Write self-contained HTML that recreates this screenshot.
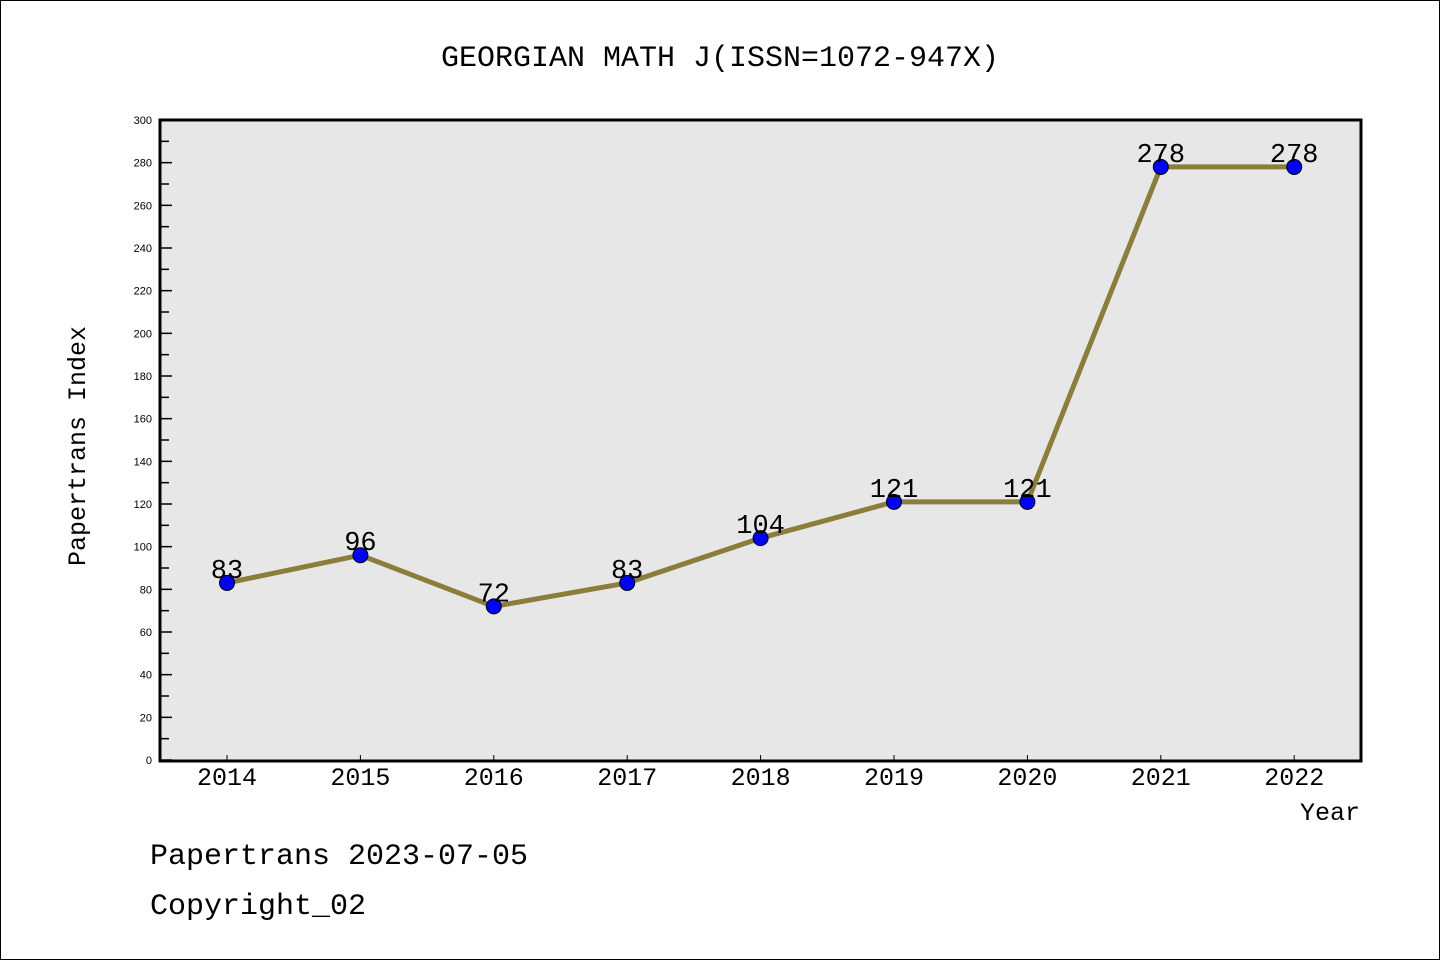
<!DOCTYPE html>
<html><head><meta charset="utf-8"><style>
body{margin:0;background:#fff}
svg{display:block;font-family:"Liberation Mono",monospace}
</style></head><body>
<svg id="chart" width="1440" height="960" viewBox="0 0 1440 960" xmlns="http://www.w3.org/2000/svg">
<rect x="0.5" y="0.5" width="1439" height="959" fill="#fff" stroke="#000"/>
<text x="720" y="66" text-anchor="middle" font-size="30">GEORGIAN MATH J(ISSN=1072-947X)</text>
<rect x="160" y="120" width="1201" height="641" fill="#e7e7e7"/>
<g id="axes"></g>
<g id="series"></g>
<rect x="160" y="120" width="1201" height="641" fill="none" stroke="#000" stroke-width="3"/>
<text x="85" y="446" text-anchor="middle" font-size="25" transform="rotate(-90 85 446)">Papertrans Index</text>
<text x="1360" y="820" text-anchor="end" font-size="25">Year</text>
<text x="150" y="864" font-size="30">Papertrans 2023-07-05</text>
<text x="150" y="914" font-size="30">Copyright_02</text>
</svg>
<script>
const years = ["2014","2015","2016","2017","2018","2019","2020","2021","2022"];
const values = [83,96,72,83,104,121,121,278,278];
const yTicks = [0,20,40,60,80,100,120,140,160,180,200,220,240,260,280,300];
const NS="http://www.w3.org/2000/svg";
const x0=227,dx=133.4,yBase=760,yTop=120,yMax=300;
function xs(i){return x0+i*dx;}
function ys(v){return yBase-(v/yMax)*(yBase-yTop);}
function mk(tag,attrs,parent){const e=document.createElementNS(NS,tag);for(const k in attrs)e.setAttribute(k,attrs[k]);parent.appendChild(e);return e;}
const axes=document.getElementById('axes'),series=document.getElementById('series');
yTicks.forEach((t,i)=>{
  const y=ys(t);
  const ln=mk('line',{x1:160,x2:172,y1:y,y2:y,stroke:'#000','stroke-width':1.5},axes);
  
  
  const tx=mk('text',{x:152,y:y+4,'text-anchor':'end','font-size':11,'font-family':'Liberation Sans, sans-serif'},axes);
  tx.textContent=t;
  
  
  if(i<yTicks.length-1){
    const ym=ys(t+10);
    const mn=mk('line',{x1:160,x2:169,y1:ym,y2:ym,stroke:'#000','stroke-width':1.5},axes);
    
    
  }
});
years.forEach((yr,i)=>{
  const x=xs(i);
  const ln=mk('line',{x1:x,x2:x,y1:761,y2:755,stroke:'#000','stroke-width':1},axes);
  
  
  const tx=mk('text',{x:x,y:785,'text-anchor':'middle','font-size':25},axes);
  tx.textContent=yr;
  
  
});
const pl=mk('polyline',{points:values.map((v,i)=>xs(i)+','+ys(v)).join(' '),fill:'none',stroke:'#8b7d3a','stroke-width':5,'stroke-linejoin':'round'},series);


values.forEach((v,i)=>{
  const c=mk('circle',{cx:xs(i),cy:ys(v),r:7.5,fill:'#0000ff',stroke:'#000','stroke-width':1},series);
  
  
  const t=mk('text',{x:xs(i),y:ys(v)-5,'text-anchor':'middle','font-size':27},series);
  t.textContent=v;
  
  
});
</script>
</body></html>
